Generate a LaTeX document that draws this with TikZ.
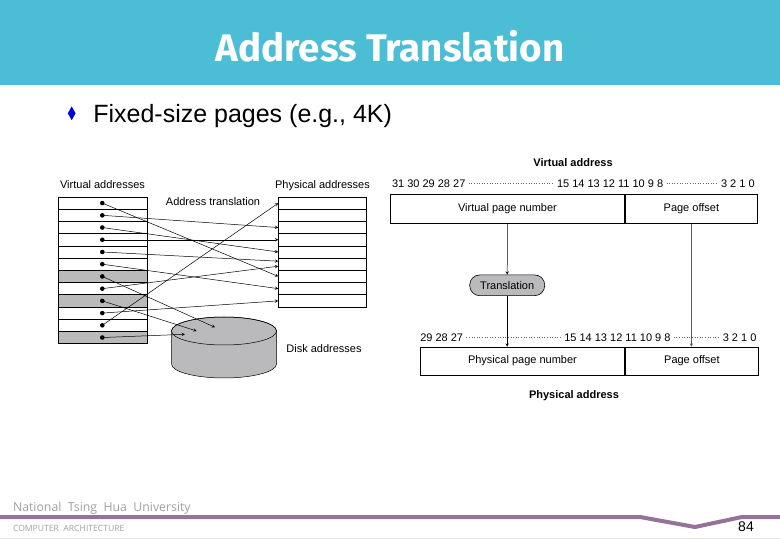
\documentclass[tikz,border=0pt]{standalone}
\usepackage{fontspec}
\setmainfont{Liberation Sans}
\newfontfamily\titlefont{Fira Sans}
\newfontfamily\footfont{Open Sans}
\usetikzlibrary{shapes.geometric,calc}
\definecolor{band}{RGB}{75,190,214}
\definecolor{slot}{RGB}{186,186,188}
\definecolor{barpurple}{RGB}{148,114,154}
\begin{document}
\begin{tikzpicture}[x=1pt, y=-1pt, line width=0.6pt, >=stealth,
  lbl/.style={font=\fontsize{11}{13}\selectfont, inner sep=0pt},
  bold/.style={font=\bfseries\fontsize{11}{13}\selectfont, inner sep=0pt},
  row/.style={draw, minimum width=89pt, minimum height=12.22pt, inner sep=0pt, anchor=north west},
  field/.style={draw, minimum height=29pt, inner sep=0pt, anchor=north west, font=\fontsize{11}{13}\selectfont},
  map/.style={->, line width=0.5pt},
  bits/.style={dotted, gray!80!black, line width=0.6pt, shorten <=3pt, shorten >=3pt}]
  \useasboundingbox (0,0) rectangle (780,540);
  \fill[band] (0,0) rectangle (780,85);
  \node[text=white, font=\titlefont\bfseries\fontsize{38.5}{42}\selectfont] (title) at (390,46) {Address Translation};
  \node[diamond, fill=blue!85!black, minimum width=8pt, minimum height=14pt, inner sep=0pt] (bul) at (71.7,113.3) {};
  \node[anchor=base west, font=\fontsize{25}{28}\selectfont, inner sep=0pt] (point) at (93,123) {Fixed-size pages (e.g., 4K)};

  % page table picture
  \node[lbl, anchor=base] (vlabel) at (102.5,189) {Virtual addresses};
  \node[lbl, anchor=base] (plabel) at (322.5,189) {Physical addresses};
  \node[lbl, anchor=base] (tlabel) at (213,205.7) {Address translation};
  \node[lbl, anchor=base] (dlabel) at (324,353) {Disk addresses};
  \foreach \i/\c in {1/white,2/white,3/white,4/white,5/white,6/white,7/slot,8/white,9/slot,10/white,11/white,12/slot}
    \node[row, fill=\c] (v\i) at (58.3,{196.7+(\i-1)*12.22}) {};
  \foreach \i in {1,...,9}
    \node[row, minimum width=87.7pt] (p\i) at (278.3,{196.7+(\i-1)*12.22}) {};
  \foreach \i in {1,...,12}
    \node[circle, fill, inner sep=0pt, minimum size=4.6pt] (d\i) at ($(v\i.west)+(44,0)$) {};

  \coordinate (disk) at (224,331);
  \filldraw[fill=slot, line width=0.5pt] (171.5,331) -- (171.5,364)
    arc[start angle=180, end angle=360, x radius=52.5pt, y radius=14pt] -- (276.5,331)
    arc[start angle=0, end angle=180, x radius=52.5pt, y radius=14pt] -- cycle;
  \draw[line width=0.5pt] (disk) ellipse[x radius=52.5pt, y radius=14pt];

  \foreach \s/\t in {1/p7,2/p3,3/p5,4/p4,6/p8,10/p9,11/p1}
    \draw[map] (d\s.center) -- (\t.west);
  \draw[map] (d5.center) -- ($(p6.west)+(0,-3)$);
  \draw[map] (d8.center) -- ($(p6.west)+(0,2)$);
  \draw[map] (d7.center) -- ($(disk)+(-9,-3.7)$);
  \draw[map] (d9.center) -- ($(disk)+(-27.3,0)$);
  \draw[map] (d12.center) -- ($(disk)+(-39,3.3)$);

  % address fields
  \node[bold, anchor=base] (vaddr) at (573,167) {Virtual address};
  \node[lbl, anchor=base west] (vb31) at (391.7,187.3) {31 30 29 28 27};
  \node[lbl, anchor=base west] (vb15) at (556.7,187.3) {15 14 13 12 11 10 9 8};
  \node[lbl, anchor=base east] (vb3) at (755,187.3) {3 2 1 0};
  \draw[bits] (vb31.east) -- (vb15.west);
  \draw[bits] (vb15.east) -- (vb3.west);
  \node[field, minimum width=234.3pt] (vpn) at (390,194.3) {Virtual page number};
  \node[field, minimum width=132.4pt] (voff) at (vpn.north east) {Page offset};

  \node[draw, rounded corners=10pt, fill=slot, minimum width=75pt, minimum height=20.7pt, inner sep=0pt,
    font=\fontsize{11}{13}\selectfont] (trans) at (507.2,285.3) {Translation};

  \node[lbl, anchor=base west] (pb29) at (420,341.3) {29 28 27};
  \node[lbl, anchor=base west] (pb15) at (564,341.3) {15 14 13 12 11 10 9 8};
  \node[lbl, anchor=base east] (pb3) at (756.7,341.3) {3 2 1 0};
  \draw[bits] (pb29.east) -- (pb15.west);
  \draw[bits] (pb15.east) -- (pb3.west);
  \node[field, minimum width=204.3pt, minimum height=28.3pt] (ppn) at (420,346.7) {Physical page number};
  \node[field, minimum width=133.4pt, minimum height=28.3pt] (poff) at (ppn.north east) {Page offset};
  \node[bold, anchor=base] (paddr) at (574,399) {Physical address};

  \draw[->, line width=0.5pt] (vpn.south) -- (trans.north);
  \draw[->, line width=0.5pt] (trans.south) -- (trans.south |- ppn.north);
  \draw[->, line width=0.5pt, gray!70!black] (voff.south) -- (voff.south |- poff.north);

  % footer
  \node[anchor=base west, text=gray!75, font=\footfont\fontsize{12.3}{15}\selectfont, inner sep=0pt] (univ) at (12.7,511) {National\ \ Tsing\ \ Hua\ \ University};
  \draw[barpurple, line width=4pt, line join=round] (0,517) -- (640,517) -- (695,527) -- (742,517) -- (780,517);
  \node[anchor=base west, text=gray!75, font=\footfont\fontsize{8.6}{10}\selectfont, inner sep=0pt] (dept) at (12.7,531) {COMPUTER\ \ ARCHITECTURE};
  \draw[gray!20, line width=1.5pt] (0,538.5) -- (780,538.5);
  \node[font=\fontsize{14}{16}\selectfont, inner sep=0pt] (pageno) at (746,527) {84};
\end{tikzpicture}
\end{document}
